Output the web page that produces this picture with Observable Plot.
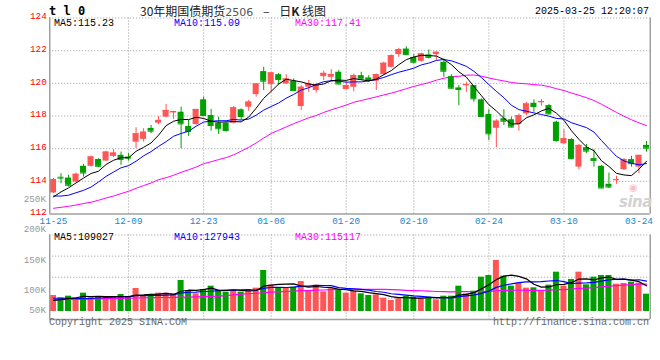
<!DOCTYPE html>
<html><head><meta charset="utf-8">
<script src="https://cdn.jsdelivr.net/npm/d3@7"></script>
<script src="https://cdn.jsdelivr.net/npm/@observablehq/plot@0.6"></script>
<style>
html,body{margin:0;padding:0;background:#fff;}
#wrap{position:relative;width:660px;height:360px;overflow:hidden;background:#fff;font-family:"Liberation Mono","DejaVu Sans Mono",monospace;}
.t{position:absolute;white-space:nowrap;font-size:10px;line-height:10px;}
#wrap svg{position:absolute;left:0;}
</style></head><body><div id="wrap"></div>
<script>
// ---------- data ----------
const tickIdx = [0, 10, 20, 29, 39, 48, 58, 68, 78];
const tickLabels = ["11-25","12-09","12-23","01-06","01-20","02-10","02-24","03-10","03-24"];
const priceTicks = [112, 114, 116, 118, 120, 122, 124];

const open = [113.29,114.25,114.20,113.96,114.92,114.92,115.34,115.24,115.53,115.59,
115.49,116.40,116.57,117.24,117.56,117.93,118.19,118.23,117.36,117.48,
118.99,118.03,117.56,117.56,117.56,118.38,118.54,119.31,120.72,119.92,
120.53,119.96,120.13,118.58,119.76,119.56,120.41,120.37,120.68,119.62,
119.76,120.47,120.33,120.13,120.53,120.98,121.76,122.10,121.59,121.35,
121.74,121.76,121.29,120.41,119.72,119.86,119.86,118.99,118.09,117.25,
117.83,117.77,117.48,118.13,118.78,118.81,118.64,117.62,116.30,116.56,
114.87,116.06,115.39,114.92,113.82,114.06,114.71,115.33,114.87,116.20];
const high = [114.17,114.47,114.37,114.51,115.04,115.55,115.38,115.84,115.94,115.79,
115.69,117.28,117.22,117.42,117.97,118.70,118.29,118.54,117.73,118.40,
119.15,118.40,117.93,117.62,118.58,118.44,118.95,119.96,120.98,120.68,
120.61,120.53,120.27,119.86,120.17,120.00,120.74,120.84,120.78,120.13,
120.57,120.68,120.47,120.57,121.29,121.74,122.14,122.24,121.76,121.84,
122.04,121.94,121.49,120.53,119.86,120.07,119.86,119.05,118.38,117.77,
118.38,117.93,118.13,118.84,118.99,119.01,118.70,117.68,117.16,116.61,
116.26,116.26,115.94,114.98,114.51,114.31,115.39,115.53,115.59,116.44];
const low = [113.25,113.86,113.65,113.90,114.26,114.87,114.83,115.22,115.45,114.98,
115.24,116.00,116.40,116.91,117.46,117.89,117.79,116.00,116.75,117.42,
117.97,117.07,116.87,117.01,117.52,117.73,118.29,119.15,119.56,119.45,
119.86,119.92,119.52,118.34,119.45,119.40,120.17,120.07,119.90,119.60,
119.49,120.17,120.07,119.56,120.47,120.94,121.59,121.69,121.19,121.29,
121.49,121.39,120.37,119.66,118.64,119.45,118.84,117.93,116.50,116.06,
117.42,117.28,117.07,118.03,118.23,118.60,118.07,116.40,116.26,115.33,
114.71,115.69,114.87,113.55,113.55,113.82,114.67,114.87,114.47,115.79];
const close = [114.10,114.20,113.76,114.43,114.51,115.49,114.92,115.79,115.73,115.34,
115.42,116.91,117.01,117.07,117.73,118.34,118.27,117.52,117.05,118.40,
118.03,117.42,117.22,117.11,118.50,117.97,118.85,119.96,120.13,120.64,
120.23,120.27,119.56,119.76,119.96,119.92,120.61,120.53,119.96,119.86,
120.47,120.27,120.17,120.53,121.23,121.69,122.06,121.76,121.29,121.80,
121.59,121.90,120.74,119.70,119.62,119.92,119.05,117.97,116.91,117.68,
117.68,117.32,118.03,118.74,118.58,118.89,118.13,116.50,116.61,115.39,
116.20,115.85,115.28,113.59,113.65,114.10,115.33,115.08,115.59,116.03];

const ma5 = [113.05,113.35,113.60,113.90,114.20,114.48,114.62,115.03,115.29,115.45,
115.44,115.84,116.08,116.35,116.83,117.41,117.68,117.79,117.78,117.92,
117.85,117.68,117.62,117.64,117.66,117.64,117.93,118.48,119.08,119.51,
119.96,120.25,120.17,120.09,119.96,119.89,119.96,120.16,120.20,120.18,
120.29,120.22,120.15,120.26,120.53,120.78,121.14,121.45,121.61,121.72,
121.70,121.67,121.46,121.15,120.71,120.38,119.81,119.25,118.69,118.31,
117.86,117.51,117.52,117.89,118.07,118.31,118.47,118.17,117.74,117.10,
116.57,116.11,115.87,115.26,114.91,114.49,114.39,114.35,114.75,115.23];
const ma10 = [113.10,113.10,113.15,113.30,113.45,113.65,113.96,114.30,114.57,114.83,
114.96,115.23,115.56,115.82,116.14,116.43,116.76,116.93,117.07,117.37,
117.63,117.68,117.71,117.71,117.79,117.75,117.81,118.05,118.36,118.58,
118.80,119.09,119.32,119.59,119.73,119.93,120.10,120.16,120.14,120.07,
120.09,120.09,120.15,120.23,120.36,120.53,120.68,120.80,120.93,121.13,
121.24,121.40,121.46,121.38,121.22,121.04,120.74,120.36,119.92,119.51,
119.12,118.66,118.39,118.29,118.19,118.09,117.99,117.85,117.82,117.59,
117.44,117.29,117.02,116.50,116.01,115.53,115.25,115.11,115.01,115.09];
const ma30 = [112.35,112.41,112.47,112.55,112.64,112.72,112.84,112.98,113.10,113.25,
113.39,113.57,113.74,113.90,114.10,114.22,114.37,114.55,114.71,114.87,
115.08,115.20,115.33,115.45,115.62,115.85,116.08,116.35,116.65,116.93,
117.13,117.33,117.53,117.71,117.89,118.03,118.22,118.38,118.52,118.67,
118.84,118.95,119.06,119.17,119.29,119.40,119.53,119.67,119.81,119.93,
120.04,120.19,120.31,120.40,120.43,120.50,120.51,120.44,120.33,120.23,
120.15,120.05,120.00,119.97,119.92,119.89,119.80,119.67,119.56,119.41,
119.27,119.12,118.95,118.72,118.47,118.22,117.99,117.77,117.58,117.41];

const volume = [67500,57700,64700,53500,77400,63300,63300,56300,56300,71700,
63300,97100,63300,67500,77400,77400,74600,130800,88600,74600,
92800,106900,88600,81600,88600,81600,92800,98500,173000,111100,
98500,98500,102700,126600,88600,111100,83000,95700,91400,77400,
85800,74600,67500,70300,56300,46400,53500,64700,60500,56300,
60500,49200,64700,64700,106900,74600,85800,144900,151900,215200,
149100,106900,119600,98500,99900,88600,111100,166000,106900,135000,
166000,112500,144900,151900,151900,115300,118200,123800,119600,73100];
const volMa5 = [47000,50000,54000,58000,64200,63300,64400,62800,63300,62200,
62200,68900,70300,72600,73700,76500,72000,85500,89800,89200,
92300,98700,90300,88900,91700,89500,86600,88600,106900,111400,
114800,115900,116800,107500,103000,105500,102400,101000,94000,91700,
86700,85000,79300,75100,70900,63000,58800,58200,56300,56300,
59100,58200,58200,59100,69200,72000,79300,95400,112800,134500,
149400,153600,148500,137900,114800,102700,103500,112800,114500,121500,
137000,137300,133100,142100,145400,135300,136400,132200,125800,109027];
const volMa10 = [56000,56000,56000,55000,54000,55000,57000,59000,61000,63200,
62800,66700,66600,67900,68000,69400,70500,77900,81200,81500,
84400,85400,87900,89300,90500,90900,92700,89500,97900,101600,
102100,101300,102700,107200,107200,110100,109200,108900,100700,97400,
96100,93700,90200,84500,81300,74800,71900,68800,65700,63600,
61100,58500,58200,57700,62700,65600,68800,76800,86000,101800,
110700,116500,122000,125300,124600,126000,128600,130700,126200,118200,
119900,120400,122900,128300,133500,136200,136900,132600,133900,127943];
const volMa30 = [49000,50000,51000,51500,52000,53000,53500,54000,55000,55500,
56000,57000,58000,58500,59000,59000,60000,61000,61000,62000,
63000,64000,65000,67000,70000,73000,75000,77000,79000,82100,
83100,84500,85700,88200,88500,90100,90800,92100,93300,93500,
94200,93500,93600,93700,93000,92000,91200,89000,88100,87500,
86400,84500,83700,83100,83700,83500,83300,84800,84100,87600,
89300,89600,90100,89200,89600,88800,89800,92100,92600,94500,
97200,98500,101000,103800,107000,109300,111400,113400,115300,115117];

const priceMaLabels = ["MA5:115.23", "MA10:115.09", "MA30:117.41"];
const volMaLabels = ["MA5:109027", "MA10:127943", "MA30:115117"];
const volAxisLabels = ["250K", "200K", "150K", "100K", "50K"];

// ---------- layout / style ----------
const RED = "#ff5555", GREEN = "#00a000", GRID = "#999";
const MA_COLORS = ["#000000", "#0000ff", "#ff00ff"];
const W = 660, ML = 49.25, MR = 10.25;
const N = close.length;
const xDomain = [-0.5, N - 0.5];
const HW = 0.4;
const candles = d3.range(N).map(i => ({i, o: open[i], h: high[i], l: low[i], c: close[i], v: volume[i],
  col: close[i] >= open[i] ? RED : GREEN}));
const innerTicks = tickIdx.slice(1, -1);
const plotStyle = {background: "transparent", overflow: "visible",
  fontFamily: '"Liberation Mono","DejaVu Sans Mono",monospace', fontSize: "9.3px"};
const dotted = {stroke: GRID, strokeDasharray: "1,2", strokeWidth: 1};
const solid = {stroke: "#a0a0a0", strokeWidth: 1.5};

const wrap = document.getElementById("wrap");

// ---------- price panel ----------
const price = Plot.plot({
  width: W, height: 232, marginLeft: ML, marginRight: MR, marginTop: 17.5, marginBottom: 18.5,
  x: {domain: xDomain, axis: null, label: null},
  y: {domain: [112, 124], axis: null, label: null},
  style: plotStyle,
  marks: [
    Plot.ruleY(priceTicks.filter(v => v > 112), {...dotted}),
    Plot.ruleX(innerTicks, {...dotted}),
    Plot.lineY(ma30, {stroke: MA_COLORS[2], strokeWidth: 1}),
    Plot.ruleX(candles, {x: "i", y1: "l", y2: "h", stroke: "col", strokeWidth: 1}),
    Plot.rect(candles, {x1: d => d.i - HW, x2: d => d.i + HW, y1: "o", y2: "c", fill: "col"}),
    Plot.ruleY(candles, {y: "c", x1: d => d.i - HW, x2: d => d.i + HW, stroke: "col", strokeWidth: 1}),
    Plot.lineY(ma10, {stroke: MA_COLORS[1], strokeWidth: 1}),
    Plot.lineY(ma5, {stroke: MA_COLORS[0], strokeWidth: 1}),
    Plot.ruleX([xDomain[0], xDomain[1]], {...solid}),
    Plot.ruleY([112], {...solid}),
    Plot.axisY(priceTicks, {tickSize: 0, tickPadding: 3, dy: -1.5, fill: "#ff0000", label: null,
      tickFormat: d => String(d)}),
    Plot.axisX(tickIdx, {tickSize: 0, tickPadding: 3.5, fill: "#1a86d0", label: null,
      tickFormat: d => tickLabels[tickIdx.indexOf(d)]})
  ]
});
price.style.top = "0px";
wrap.appendChild(price);

// ---------- volume panel ----------
const volDomain = [-33760, 322830];
const volGrid = [1, 2, 3].map(k => volDomain[1] - (volDomain[1] - volDomain[0]) * k / 4);
const vol = Plot.plot({
  width: W, height: 128, marginLeft: ML, marginRight: MR, marginTop: 2.5, marginBottom: 41,
  x: {domain: xDomain, axis: null, label: null},
  y: {domain: volDomain, axis: null, label: null},
  style: plotStyle,
  marks: [
    Plot.ruleY([volDomain[1], ...volGrid], {...dotted}),
    Plot.ruleX(innerTicks, {...dotted}),
    Plot.rect(candles, {x1: d => d.i - HW, x2: d => d.i + HW, y1: 0, y2: "v", fill: "col"}),
    Plot.lineY(volMa30, {stroke: MA_COLORS[2], strokeWidth: 1.2}),
    Plot.lineY(volMa10, {stroke: MA_COLORS[1], strokeWidth: 1.2}),
    Plot.lineY(volMa5, {stroke: MA_COLORS[0], strokeWidth: 1.2}),
    Plot.ruleX([xDomain[0], xDomain[1]], {...solid}),
    Plot.ruleY([volDomain[0]], {...solid})
  ]
});
vol.style.top = "232px";
wrap.appendChild(vol);

// ---------- texts ----------
function addText(txt, css) {
  const d = document.createElement("div");
  d.className = "t";
  d.textContent = txt;
  Object.assign(d.style, css);
  wrap.appendChild(d);
  return d;
}
addText("t l 0", {left: "49px", top: "5px", fontSize: "12px", lineHeight: "12px", fontWeight: "bold",
  fontFamily: '"DejaVu Sans Mono",monospace'});
const title = addText("", {left: "140px", top: "4px", fontSize: "12px", lineHeight: "13px",
  fontFamily: '"Noto Sans CJK SC","DejaVu Sans",sans-serif', color: "#222"});
title.innerHTML = '30年期国债期货<span style="color:#555;font-family:\'DejaVu Sans\';font-size:11px">2506</span> <span style="margin:0 7px">–</span> 日<b>K</b> 线图';
addText("2025-03-25 12:20:07", {right: "11px", top: "7px", color: "#000"});
const maLefts = ["54px", "174px", "295px"];
priceMaLabels.forEach((s, k) => addText(s, {left: maLefts[k], top: "19px", color: MA_COLORS[k]}));
volMaLabels.forEach((s, k) => addText(s, {left: maLefts[k], top: "233px", color: MA_COLORS[k]}));
const volLabelTops = ["195px", "225px", "256px", "286px", "306px"];
volAxisLabels.forEach((s, k) => addText(s, {right: "614px", top: volLabelTops[k], color: "#999", fontSize: "9.3px"}));
addText("Copyright 2025 SINA.COM", {left: "49px", top: "318px", color: "#666"});
addText("http://finance.sina.com.cn", {right: "11px", top: "318px", color: "#666"});
addText("sina", {left: "619px", top: "195px", fontSize: "15px", lineHeight: "15px", fontStyle: "italic",
  fontWeight: "bold", color: "#d2d2d2", fontFamily: '"DejaVu Sans",sans-serif', letterSpacing: "-0.5px"});
addText("◉", {left: "629px", top: "183px", fontSize: "10px", lineHeight: "10px", color: "#f6c0c0",
  fontFamily: '"DejaVu Sans",sans-serif'});
</script></body></html>
